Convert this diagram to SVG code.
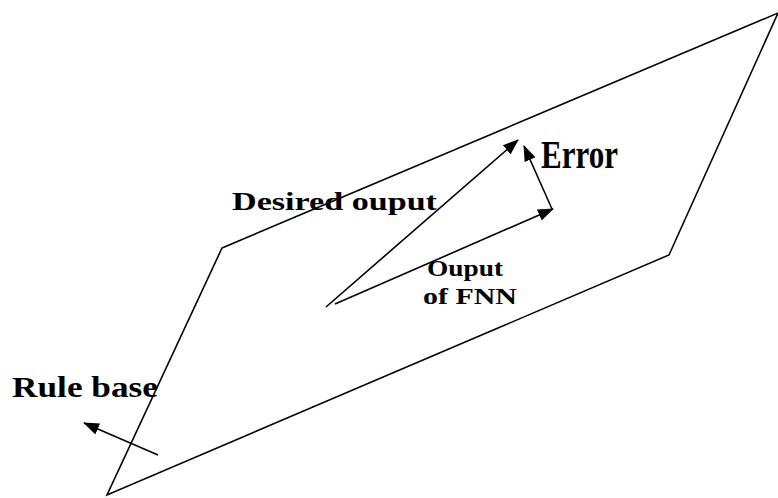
<svg xmlns="http://www.w3.org/2000/svg" width="778" height="498" viewBox="0 0 778 498">
<defs>
<marker id="ah" viewBox="0 0 16 12" refX="15" refY="6" markerWidth="16" markerHeight="12" markerUnits="userSpaceOnUse" orient="auto">
<path d="M0,0 L16,6 L0,12 Z" fill="#000"/>
</marker>
</defs>
<style>
.ln{fill:none;stroke:#000;stroke-width:1.6}
.arr{fill:none;stroke:#000;stroke-width:1.6;marker-end:url(#ah)}
.lbl{font-family:"Liberation Serif","Times New Roman",serif;font-weight:bold;fill:#000}
</style>
<g id="plane">
<polygon class="ln" points="222,248 778,13 669,255 107,495"/>
</g>
<g id="connectors">
<line class="arr" x1="326" y1="307" x2="518" y2="140"/>
<line class="arr" x1="335" y1="304" x2="553" y2="209"/>
<line class="arr" x1="552" y1="209" x2="524" y2="146"/>
<line class="arr" x1="158" y1="455" x2="84" y2="423"/>
</g>
<g id="error-label">
<text class="lbl" x="541" y="168" font-size="40" textLength="77" lengthAdjust="spacingAndGlyphs">Error</text>
</g>
<g id="desired-label">
<text class="lbl" x="232" y="210" font-size="26" textLength="205" lengthAdjust="spacingAndGlyphs">Desired ouput</text>
</g>
<g id="fnn-label">
<text class="lbl" x="427" y="276" font-size="23" textLength="76" lengthAdjust="spacingAndGlyphs">Ouput</text>
<text class="lbl" x="423" y="304" font-size="23" textLength="94" lengthAdjust="spacingAndGlyphs">of FNN</text>
</g>
<g id="rule-base-label">
<text class="lbl" x="12" y="397" font-size="30" textLength="146" lengthAdjust="spacingAndGlyphs">Rule base</text>
</g>
</svg>
